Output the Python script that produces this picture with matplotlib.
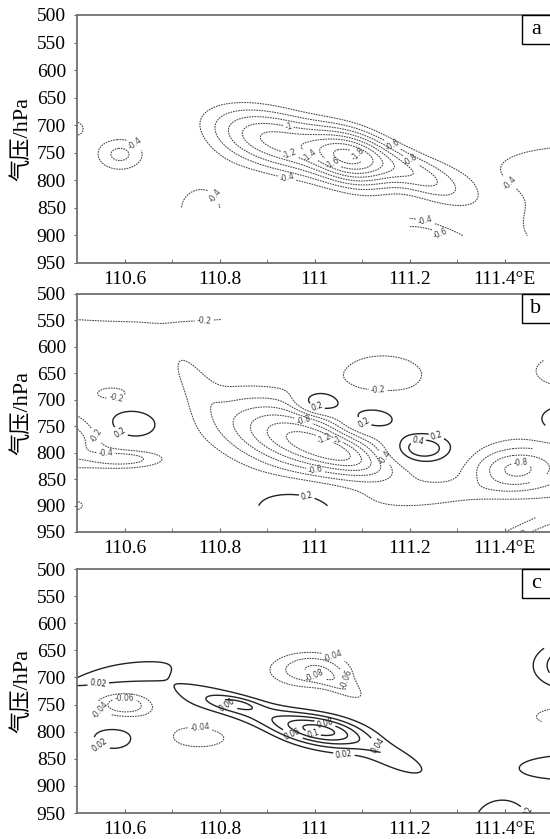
import numpy as np
import matplotlib.pyplot as plt
from matplotlib.patches import Rectangle

# ---- field reconstruction: each panel is a sum of tilted gaussian cells
# lon/p = centre, amp = value, wx/wp = widths (hPa-equivalent), tilt = deg
K = 870.0  # hPa-equivalent per degree of longitude

# panel a
a_lon = [110.92, 111.08, 111.22, 111.56, 111.62, 110.59, 110.49, 110.76, 111.24]
a_p = [728, 760, 792, 770, 890, 753, 705, 852, 910]
a_amp = [-1.25, -1.35, -0.7, -0.48, -0.65, -0.65, -0.5, -0.5, -0.75]
a_wx = [95, 55, 70, 190, 150, 40, 25, 52, 70]
a_wp = [40, 34, 25, 45, 60, 27, 18, 51, 25]
a_tilt = [15, 20, 25, 0, 0, 0, 0, 0, 20]
a_levels = [-1.8, -1.6, -1.4, -1.2, -1.0, -0.8, -0.6, -0.4, 0.4, 0.6]
a_mask = [(110.69, 110.83, 851, 960), (111.19, 111.6, 901, 960),
          (111.10, 111.20, 860, 960)]

# panel b
b_lon = [110.97, 111.06, 110.74, 111.25, 111.42, 111.55, 111.55,
         111.11, 111.01, 111.225, 111.53, 110.613, 110.97,
         111.145, 111.54, 110.573, 110.65, 110.46, 110.60, 110.48]
b_p = [775, 805, 655, 880, 832, 810, 975,
       738, 705, 793, 740, 746, 905,
       653, 645, 688, 505, 775, 812, 900]
b_amp = [-1.15, -0.45, -0.22, -0.25, -0.7, -0.3, -0.9,
         0.5, 0.65, 0.65, 0.55, 0.4, 0.38,
         -0.28, -0.3, -0.3, -0.35, -0.6, -0.5, -0.3]
b_wx = [110, 60, 50, 100, 55, 100, 120,
        47, 30, 40, 40, 44, 70,
        85, 70, 27, 300, 60, 50, 30]
b_wp = [45, 20, 20, 18, 28, 50, 40,
        24, 17, 20, 25, 23, 35,
        42, 35, 11, 45, 35, 12, 12]
b_tilt = [17, 20, 55, -5, 0, 0, -15,
          0, 0, 0, 0, 0, 0,
          0, 0, 0, 0, 0, 0, 0]
b_levels = [-1.2, -1.0, -0.8, -0.6, -0.4, -0.2, 0.2, 0.4]
b_mask = [(110.86, 111.07, 901, 960), (110.805, 111.6, 480, 560)]

# panel c
c_lon = [110.58, 110.60, 110.585, 110.757, 110.88, 111.02, 110.835, 111.17,
         110.99, 111.07, 111.56, 111.58, 111.55, 111.395]
c_p = [697, 750, 811, 809, 770, 797, 748, 850,
       686, 722, 678, 772, 866, 965]
c_amp = [0.032, -0.075, 0.04, -0.05, 0.05, 0.08, 0.032, 0.03,
         -0.075, -0.04, 0.08, -0.065, 0.035, 0.035]
c_wx = [90, 46, 39, 75, 130, 55, 30, 50,
        65, 45, 52, 100, 95, 45]
c_wp = [16, 20, 20, 28, 22, 18, 8, 15,
        28, 15, 30, 22, 22, 36]
c_tilt = [-11, 0, 0, 0, 17, 10, 10, 25,
          0, 30, 0, 0, 0, 0]
c_levels = [-0.1, -0.08, -0.06, -0.04, 0.02, 0.04, 0.06, 0.08, 0.1]
c_mask = []

xticks = [110.6, 110.8, 111.0, 111.2, 111.4]
xticklabels = ['110.6', '110.8', '111', '111.2', '111.4°E']
yticks = list(range(500, 951, 50))

lons = np.arange(110.45, 111.6, 0.003)
ps = np.arange(490, 962, 1.2)
LON, P = np.meshgrid(lons, ps)


def build_field(lon0, p0, amp, wx, wp, tilt, mask):
    F = np.zeros_like(LON)
    for x0, y0, a, sx, sy, t in zip(lon0, p0, amp, wx, wp, tilt):
        dx = (LON - x0) * K
        dy = P - y0
        th = np.radians(t)
        u = dx * np.cos(th) + dy * np.sin(th)
        v = -dx * np.sin(th) + dy * np.cos(th)
        F += a * np.exp(-0.5 * ((u / sx) ** 2 + (v / sy) ** 2))
    m = np.zeros_like(F, dtype=bool)
    for l0, l1, q0, q1 in mask:
        m |= (LON >= l0) & (LON <= l1) & (P >= q0) & (P <= q1)
    return np.ma.masked_where(m, F)


def label(ax, cs):
    texts = ax.clabel(cs, fmt=lambda v: f'{v:g}', fontsize=5.5,
                      inline_spacing=1)
    # drop labels that would be sliced by the figure edge
    for t in texts:
        if t.get_position()[0] > 111.465:
            t.set_visible(False)


def draw_panel(ax, F, levels, tag):
    neg = [l for l in levels if l < 0]
    pos = [l for l in levels if l > 0]
    cs = ax.contour(lons, ps, F, levels=neg, colors='#444444',
                    linewidths=0.75, linestyles=[(0, (1.6, 0.9))])
    label(ax, cs)
    if pos:
        cs2 = ax.contour(lons, ps, F, levels=pos, colors='#222222',
                         linewidths=1.0, linestyles='solid')
        label(ax, cs2)
    ax.set_xlim(110.5, 111.5)
    ax.set_ylim(950, 500)
    ax.set_xticks(xticks)
    ax.set_xticklabels(xticklabels)
    ax.set_xticks(np.arange(110.6, 111.45, 0.1), minor=True)
    ax.set_yticks(yticks)
    ax.tick_params(axis='y', direction='out', length=2, pad=6,
                   labelsize=14, color='#666666')
    ax.tick_params(axis='x', which='both', direction='in', length=3,
                   pad=6, labelsize=14, color='#666666')
    for lab in ax.get_xticklabels() + ax.get_yticklabels():
        lab.set_family('Liberation Serif')
    for s in ax.spines.values():
        s.set_color('#707070')
        s.set_linewidth(1.3)
    ax.set_ylabel('气压/hPa', fontsize=16,
                  family=['Liberation Serif', 'Noto Sans CJK SC'], labelpad=3)
    # panel letter box in the top-right corner
    hb = 29.0 / (ax.get_position().height * 839)
    ax.add_patch(Rectangle((0.937, 1 - hb), 0.2, hb, transform=ax.transAxes,
                           facecolor='white', edgecolor='black', lw=1.0,
                           clip_on=False, zorder=5))
    ax.text(0.966, 1 - hb / 2, tag, transform=ax.transAxes, ha='center',
            va='center', fontsize=16, family='Liberation Serif', zorder=6)


fig = plt.figure(figsize=(5.5, 8.39), dpi=100)
W, H = 550.0, 839.0
boxes = [(15, 263), (294, 532), (569, 813)]
panels = [
    (build_field(a_lon, a_p, a_amp, a_wx, a_wp, a_tilt, a_mask), a_levels, 'a'),
    (build_field(b_lon, b_p, b_amp, b_wx, b_wp, b_tilt, b_mask), b_levels, 'b'),
    (build_field(c_lon, c_p, c_amp, c_wx, c_wp, c_tilt, c_mask), c_levels, 'c'),
]
for (top, bot), (F, lev, tag) in zip(boxes, panels):
    ax = fig.add_axes([77 / W, 1 - bot / H, 475 / W, (bot - top) / H])
    draw_panel(ax, F, lev, tag)

fig.savefig('out.png', dpi=100)
